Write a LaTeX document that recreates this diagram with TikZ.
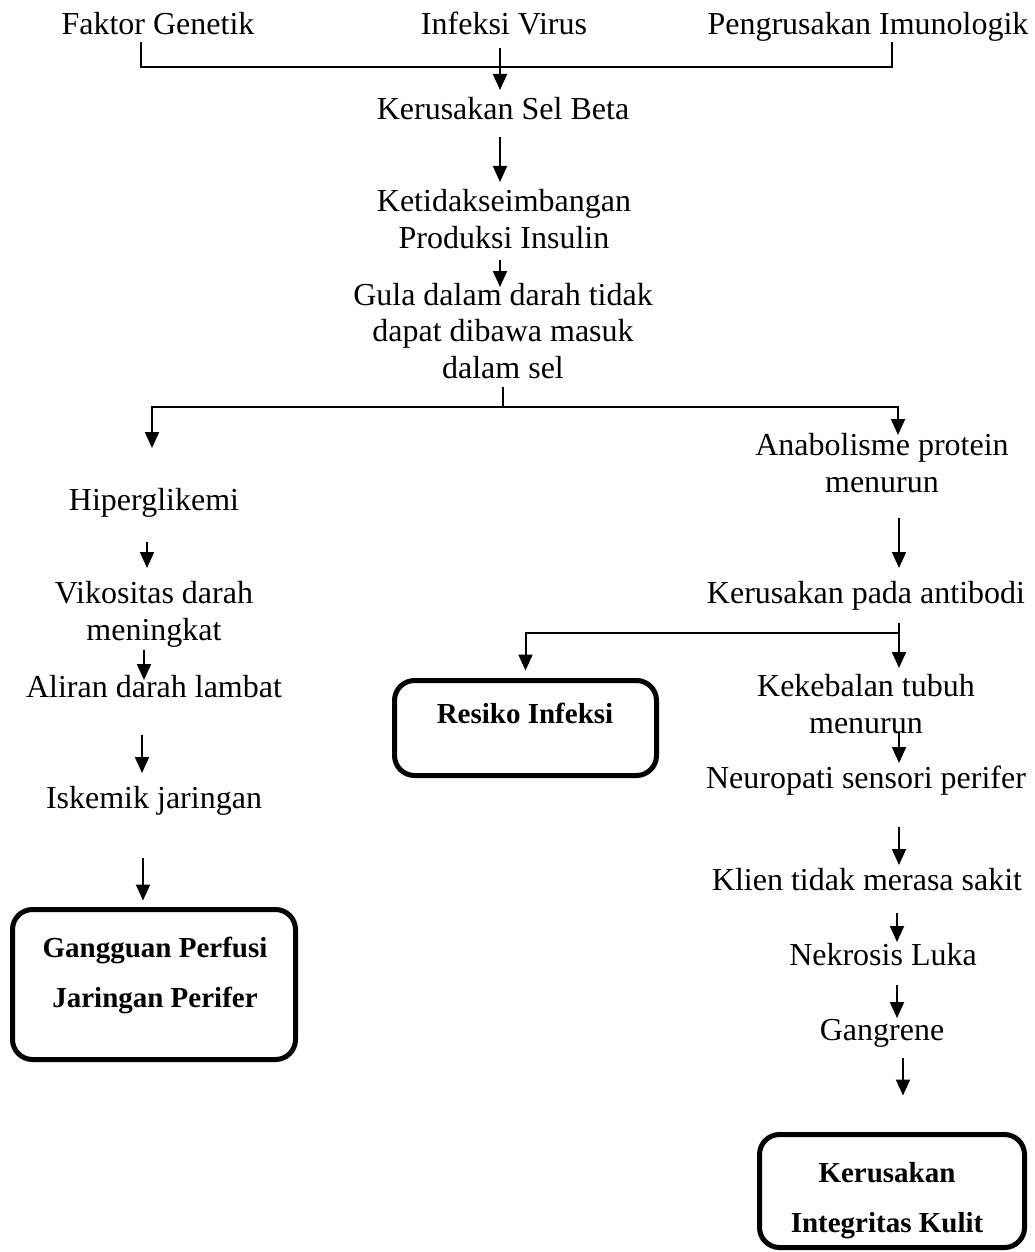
\documentclass[tikz,border=0pt]{standalone}
\usepackage{fontspec}
\setmainfont{Liberation Serif}
\usetikzlibrary{arrows.meta,positioning}

\begin{document}
\begin{tikzpicture}[x=1pt,y=-1pt,->,>={Triangle[length=16pt,width=14pt]},line width=2pt,
    every node/.style={inner sep=0pt,anchor=base,align=center,font=\fontsize{32}{36.5}\selectfont},
    result/.style={draw,line width=5pt,rounded corners=20pt,anchor=center},
    resulttext/.style={font=\fontsize{29}{50}\selectfont\bfseries}]
    \useasboundingbox (0,0) rectangle (1035,1252);

    \node (genetik) at (158,35) {Faktor Genetik};
    \node (virus) at (504,35) {Infeksi Virus};
    \node (imuno) at (868,35) {Pengrusakan Imunologik};
    \node (selbeta) at (503,120) {Kerusakan Sel Beta};
    \node (insulin) at (504,248) {Ketidakseimbangan\\Produksi Insulin};
    \node (gula) at (503,378) {Gula dalam darah tidak\\dapat dibawa masuk\\dalam sel};

    \node (hiper) at (154,510) {Hiperglikemi};
    \node (vikos) at (154,640) {Vikositas darah\\meningkat};
    \node (aliran) at (154,697) {Aliran darah lambat};
    \node (iskemik) at (154,808) {Iskemik jaringan};
    \node [result,minimum width=283pt,minimum height=150pt] (perfusi) at (154,984.5) {};
    \node [resulttext] (perfusitext) at (155,1007) {Gangguan Perfusi\\Jaringan Perifer};

    \node (anabol) at (882,492) {Anabolisme protein\\menurun};
    \node (antibodi) at (866,603) {Kerusakan pada antibodi};
    \node (kebal) at (866,733) {Kekebalan tubuh\\menurun};
    \node [result,minimum width=262pt,minimum height=95pt] (infeksi) at (525.5,728) {};
    \node [resulttext] (infeksitext) at (525,723) {Resiko Infeksi};
    \node (neuro) at (866,788) {Neuropati sensori perifer};
    \node (sakit) at (867,890) {Klien tidak merasa sakit};
    \node (nekrosis) at (883,965) {Nekrosis Luka};
    \node (gangren) at (882,1040) {Gangrene};
    \node [result,minimum width=265pt,minimum height=113pt] (kulit) at (892,1191) {};
    \node [resulttext] (kulittext) at (887,1232) {Kerusakan\\Integritas Kulit};

    \coordinate (antisplit) at ([xshift=33pt,yshift=-30pt]antibodi.base);

    \draw[-] ([xshift=-17pt,yshift=-7pt]genetik.base) -- ++(0,25) -| ([xshift=24pt,yshift=-7pt]imuno.base);
    \draw[-] ([yshift=-9pt]gula.base) -- ++(0,20) coordinate (gulasplit);
    \draw (gulasplit) -| ([xshift=-2pt,yshift=62pt]hiper.base);
    \draw (gulasplit) -| ([xshift=16pt,yshift=57pt]anabol.base);
    \draw[-] ([xshift=33pt,yshift=-20pt]antibodi.base) -- (antisplit);
    \draw (antisplit) -| ([yshift=7.5pt]infeksi.north);

    \path
        ([xshift=-4pt,yshift=-13pt]virus.base) edge ([xshift=-3pt,yshift=30pt]selbeta.base)
        ([xshift=-3pt,yshift=-17pt]selbeta.base) edge ([xshift=-4pt,yshift=66pt]insulin.base)
        ([xshift=-4pt,yshift=-12pt]insulin.base) edge ([xshift=-3pt,yshift=91pt]gula.base)

        ([xshift=-7pt,yshift=-32pt]hiper.base) edge ([xshift=-7pt,yshift=72pt]vikos.base)
        ([xshift=-10pt,yshift=-10pt]vikos.base) edge ([xshift=-10pt,yshift=17pt]aliran.base)
        ([xshift=-12pt,yshift=-38pt]aliran.base) edge ([xshift=-12pt,yshift=35pt]iskemik.base)
        ([xshift=-11pt,yshift=-50pt]iskemik.base) edge ([xshift=-11pt,yshift=6.5pt]perfusi.north)

        ([xshift=17pt,yshift=-26pt]anabol.base) edge ([xshift=33pt,yshift=35pt]antibodi.base)
        (antisplit) edge ([xshift=33pt,yshift=65pt]kebal.base)
        ([xshift=33pt,yshift=1pt]kebal.base) edge ([xshift=33pt,yshift=25pt]neuro.base)
        ([xshift=33pt,yshift=-39pt]neuro.base) edge ([xshift=32pt,yshift=25pt]sakit.base)
        ([xshift=30pt,yshift=-23pt]sakit.base) edge ([xshift=14pt,yshift=23pt]nekrosis.base)
        ([xshift=14pt,yshift=-20pt]nekrosis.base) edge ([xshift=15pt,yshift=22pt]gangren.base)
        ([xshift=21pt,yshift=-18pt]gangren.base) edge ([xshift=11pt,yshift=36.5pt]kulit.north)
    ;
\end{tikzpicture}
\end{document}
